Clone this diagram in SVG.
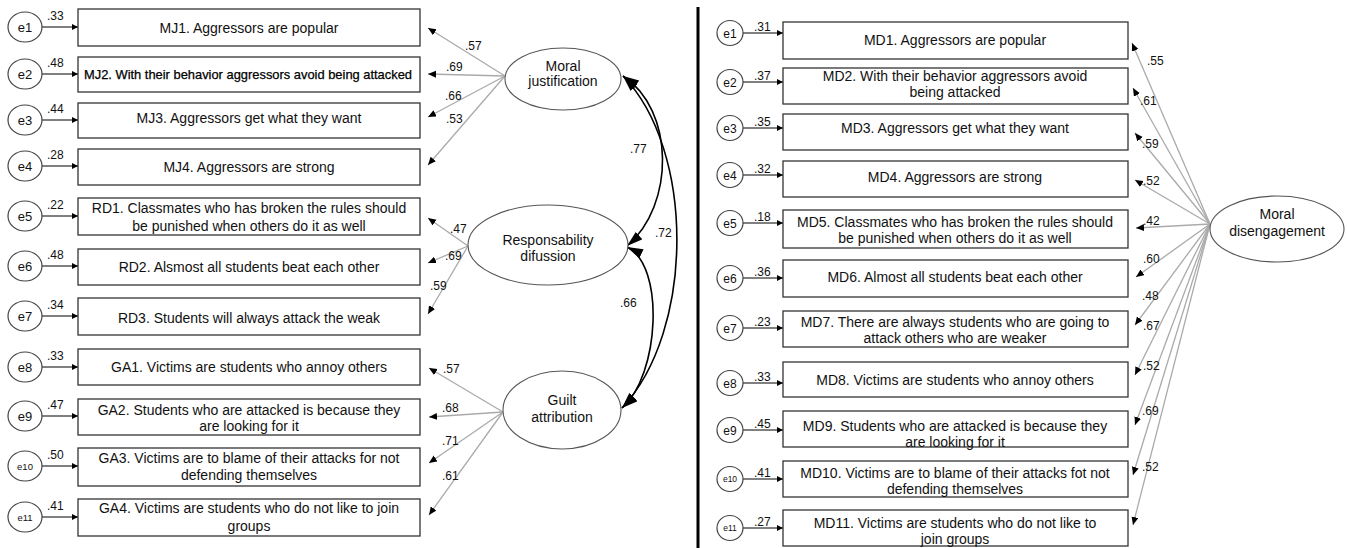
<svg xmlns="http://www.w3.org/2000/svg" width="1347" height="548" viewBox="0 0 1347 548">
<defs>
<style>
text{font-family:"Liberation Sans",Arial,sans-serif;fill:#111}
.box{fill:#fff;stroke:#333;stroke-width:1.3}
.err{fill:#fff;stroke:#444;stroke-width:1.2}
.lat{fill:#fff;stroke:#555;stroke-width:1.1}
.bt{font-size:14px;text-anchor:middle}
.lt{font-size:14px;text-anchor:middle}
.et{font-size:13px;text-anchor:middle}
.es{font-size:9.5px;text-anchor:middle}
.num{font-size:12px}
.ea{stroke:#000;stroke-width:1;fill:none;marker-end:url(#sa)}
.ld{stroke:#aaa;stroke-width:1.3;fill:none;marker-end:url(#la)}
.cv{stroke:#000;stroke-width:1.6;fill:none;marker-start:url(#ca);marker-end:url(#ca)}
</style>
<marker id="sa" markerUnits="userSpaceOnUse" markerWidth="8" markerHeight="8" refX="6" refY="3" orient="auto"><path d="M0,0 L6,3 L0,6 z" fill="#000"/></marker>
<marker id="la" markerUnits="userSpaceOnUse" markerWidth="10" markerHeight="10" refX="8" refY="3.5" orient="auto"><path d="M0,0 L8,3.5 L0,7 z" fill="#000"/></marker>
<marker id="ca" markerUnits="userSpaceOnUse" markerWidth="18" markerHeight="12" refX="16" refY="5" orient="auto-start-reverse"><path d="M0,0 L16,5 L0,10 z" fill="#000"/></marker>
</defs>
<rect width="1347" height="548" fill="#fff"/>
<line x1="698" y1="7" x2="698" y2="548" stroke="#000" stroke-width="3"/>

<g id="connectors">
<line class="ea" x1="42" y1="27" x2="78" y2="27"/>
<line class="ea" x1="42" y1="74" x2="78" y2="74"/>
<line class="ea" x1="42" y1="120" x2="78" y2="120"/>
<line class="ea" x1="42" y1="166" x2="78" y2="166"/>
<line class="ea" x1="42" y1="216" x2="78" y2="216"/>
<line class="ea" x1="42" y1="266" x2="78" y2="266"/>
<line class="ea" x1="42" y1="316" x2="78" y2="316"/>
<line class="ea" x1="42" y1="367" x2="78" y2="367"/>
<line class="ea" x1="42" y1="416" x2="78" y2="416"/>
<line class="ea" x1="42" y1="466" x2="78" y2="466"/>
<line class="ea" x1="42" y1="517" x2="78" y2="517"/>
<line class="ea" x1="743" y1="33" x2="783" y2="33"/>
<line class="ea" x1="743" y1="82" x2="783" y2="82"/>
<line class="ea" x1="743" y1="128" x2="783" y2="128"/>
<line class="ea" x1="743" y1="175" x2="783" y2="175"/>
<line class="ea" x1="743" y1="223" x2="783" y2="223"/>
<line class="ea" x1="743" y1="278" x2="783" y2="278"/>
<line class="ea" x1="743" y1="328" x2="783" y2="328"/>
<line class="ea" x1="743" y1="383" x2="783" y2="383"/>
<line class="ea" x1="743" y1="430" x2="783" y2="430"/>
<line class="ea" x1="743" y1="479" x2="783" y2="479"/>
<line class="ea" x1="743" y1="528" x2="783" y2="528"/>
<line class="ld" x1="505" y1="76" x2="428" y2="28"/>
<line class="ld" x1="505" y1="76" x2="428" y2="74"/>
<line class="ld" x1="505" y1="76" x2="428" y2="117"/>
<line class="ld" x1="505" y1="76" x2="428" y2="165"/>
<line class="ld" x1="468" y1="246" x2="428" y2="218"/>
<line class="ld" x1="468" y1="246" x2="428" y2="263"/>
<line class="ld" x1="468" y1="246" x2="428" y2="314"/>
<line class="ld" x1="503" y1="412" x2="429" y2="368"/>
<line class="ld" x1="503" y1="412" x2="429" y2="417"/>
<line class="ld" x1="503" y1="412" x2="429" y2="463"/>
<line class="ld" x1="503" y1="412" x2="429" y2="515"/>
<line class="ld" x1="1210" y1="224" x2="1132" y2="43"/>
<line class="ld" x1="1210" y1="224" x2="1133" y2="88"/>
<line class="ld" x1="1210" y1="224" x2="1135" y2="133"/>
<line class="ld" x1="1210" y1="224" x2="1135" y2="180"/>
<line class="ld" x1="1210" y1="224" x2="1136" y2="228"/>
<line class="ld" x1="1210" y1="224" x2="1136" y2="277"/>
<line class="ld" x1="1210" y1="224" x2="1135" y2="325"/>
<line class="ld" x1="1210" y1="224" x2="1135" y2="375"/>
<line class="ld" x1="1210" y1="224" x2="1135" y2="425"/>
<line class="ld" x1="1210" y1="224" x2="1133" y2="475"/>
<line class="ld" x1="1210" y1="224" x2="1133" y2="525"/>
<path class="cv" d="M623,76 C675,110 675,205 627,246"/>
<path class="cv" d="M623,76 C695,150 695,330 622,408"/>
<path class="cv" d="M627,247 C665,265 660,375 622,408"/>
<g class="num">
<text x="47" y="20">.33</text><text x="47" y="67">.48</text><text x="47" y="113">.44</text><text x="47" y="159">.28</text>
<text x="47" y="209">.22</text><text x="47" y="259">.48</text><text x="47" y="309">.34</text><text x="47" y="360">.33</text>
<text x="47" y="409">.47</text><text x="47" y="459">.50</text><text x="47" y="510">.41</text>
<text x="754" y="31">.31</text><text x="754" y="80">.37</text><text x="754" y="126">.35</text><text x="754" y="173">.32</text>
<text x="754" y="221">.18</text><text x="754" y="276">.36</text><text x="754" y="326">.23</text><text x="754" y="381">.33</text>
<text x="754" y="428">.45</text><text x="754" y="477">.41</text><text x="754" y="526">.27</text>
<text x="465" y="50">.57</text><text x="446" y="71">.69</text><text x="445" y="100">.66</text><text x="446" y="123">.53</text>
<text x="450" y="233">.47</text><text x="445" y="260">.69</text><text x="430" y="290">.59</text>
<text x="443" y="373">.57</text><text x="442" y="412">.68</text><text x="442" y="445">.71</text><text x="442" y="480">.61</text>
<text x="1147" y="65">.55</text><text x="1140" y="105">.61</text><text x="1142" y="148">.59</text><text x="1143" y="185">.52</text>
<text x="1143" y="225">.42</text><text x="1143" y="263">.60</text><text x="1142" y="300">.48</text><text x="1143" y="330">.67</text>
<text x="1143" y="370">.52</text><text x="1142" y="415">.69</text><text x="1142" y="471">.52</text>
<text x="630" y="153">.77</text><text x="655" y="237">.72</text><text x="620" y="307">.66</text>
</g>
</g>

<g id="le1"><ellipse class="err" cx="25" cy="27" rx="17" ry="15"/><text class="et" x="25" y="32">e1</text></g>
<g id="le2"><ellipse class="err" cx="25" cy="74" rx="17" ry="15"/><text class="et" x="25" y="79">e2</text></g>
<g id="le3"><ellipse class="err" cx="25" cy="120" rx="17" ry="15"/><text class="et" x="25" y="125">e3</text></g>
<g id="le4"><ellipse class="err" cx="25" cy="166" rx="17" ry="15"/><text class="et" x="25" y="171">e4</text></g>
<g id="le5"><ellipse class="err" cx="25" cy="216" rx="17" ry="15"/><text class="et" x="25" y="221">e5</text></g>
<g id="le6"><ellipse class="err" cx="25" cy="266" rx="17" ry="15"/><text class="et" x="25" y="271">e6</text></g>
<g id="le7"><ellipse class="err" cx="25" cy="316" rx="17" ry="15"/><text class="et" x="25" y="321">e7</text></g>
<g id="le8"><ellipse class="err" cx="25" cy="367" rx="17" ry="15"/><text class="et" x="25" y="372">e8</text></g>
<g id="le9"><ellipse class="err" cx="25" cy="416" rx="17" ry="15"/><text class="et" x="25" y="421">e9</text></g>
<g id="le10"><ellipse class="err" cx="25" cy="466" rx="17" ry="15"/><text class="es" x="25" y="470">e10</text></g>
<g id="le11"><ellipse class="err" cx="25" cy="517" rx="17" ry="15"/><text class="es" x="25" y="521">e11</text></g>

<g id="MJ1"><rect class="box" x="78" y="9" width="342" height="37"/><text class="bt" x="249" y="33">MJ1. Aggressors are popular</text></g>
<g id="MJ2"><rect class="box" x="78" y="57" width="342" height="35"/><text x="84" y="79" style="font-size:12.6px;fill:#000;stroke:#000;stroke-width:0.25" textLength="328" lengthAdjust="spacingAndGlyphs">MJ2. With their behavior aggressors avoid being attacked</text></g>
<g id="MJ3"><rect class="box" x="78" y="103" width="342" height="35"/><text class="bt" x="249" y="123">MJ3. Aggressors get what they want</text></g>
<g id="MJ4"><rect class="box" x="78" y="149" width="342" height="36"/><text class="bt" x="249" y="172">MJ4. Aggressors are strong</text></g>
<g id="RD1"><rect class="box" x="78" y="198" width="342" height="37"/><text class="bt" x="249" y="213">RD1. Classmates who has broken the rules should</text><text class="bt" x="249" y="231">be punished when others do it as well</text></g>
<g id="RD2"><rect class="box" x="78" y="249" width="342" height="36"/><text class="bt" x="249" y="272">RD2. Alsmost all students beat each other</text></g>
<g id="RD3"><rect class="box" x="78" y="298" width="342" height="37"/><text class="bt" x="249" y="323">RD3. Students will always attack the weak</text></g>
<g id="GA1"><rect class="box" x="78" y="349" width="342" height="36"/><text class="bt" x="249" y="372">GA1. Victims are students who annoy others</text></g>
<g id="GA2"><rect class="box" x="78" y="399" width="342" height="36"/><text class="bt" x="249" y="415">GA2. Students who are attacked is because they</text><text class="bt" x="249" y="431">are looking for it</text></g>
<g id="GA3"><rect class="box" x="78" y="448" width="342" height="38"/><text class="bt" x="249" y="463">GA3. Victims are to blame of their attacks for not</text><text class="bt" x="249" y="480">defending themselves</text></g>
<g id="GA4"><rect class="box" x="78" y="499" width="342" height="37"/><text class="bt" x="249" y="513">GA4. Victims are students who do not like to join</text><text class="bt" x="249" y="531">groups</text></g>

<g id="MJ"><ellipse class="lat" cx="563" cy="79" rx="58" ry="31"/><text class="lt" x="563" y="71">Moral</text><text class="lt" x="563" y="86">justification</text></g>
<g id="RD"><ellipse class="lat" cx="548" cy="245" rx="80" ry="40"/><text class="lt" x="548" y="245">Responsability</text><text class="lt" x="548" y="261">difussion</text></g>
<g id="GA"><ellipse class="lat" cx="562" cy="410" rx="59" ry="39"/><text class="lt" x="562" y="405">Guilt</text><text class="lt" x="562" y="422">attribution</text></g>

<g id="re1"><ellipse class="err" cx="730" cy="33" rx="13" ry="12.5"/><text class="et" x="730" y="38" style="font-size:12px">e1</text></g>
<g id="re2"><ellipse class="err" cx="730" cy="82" rx="13" ry="12.5"/><text class="et" x="730" y="87" style="font-size:12px">e2</text></g>
<g id="re3"><ellipse class="err" cx="730" cy="128" rx="13" ry="12.5"/><text class="et" x="730" y="133" style="font-size:12px">e3</text></g>
<g id="re4"><ellipse class="err" cx="730" cy="175" rx="13" ry="12.5"/><text class="et" x="730" y="180" style="font-size:12px">e4</text></g>
<g id="re5"><ellipse class="err" cx="730" cy="223" rx="13" ry="12.5"/><text class="et" x="730" y="228" style="font-size:12px">e5</text></g>
<g id="re6"><ellipse class="err" cx="730" cy="278" rx="13" ry="12.5"/><text class="et" x="730" y="283" style="font-size:12px">e6</text></g>
<g id="re7"><ellipse class="err" cx="730" cy="328" rx="13" ry="12.5"/><text class="et" x="730" y="333" style="font-size:12px">e7</text></g>
<g id="re8"><ellipse class="err" cx="730" cy="383" rx="13" ry="12.5"/><text class="et" x="730" y="388" style="font-size:12px">e8</text></g>
<g id="re9"><ellipse class="err" cx="730" cy="430" rx="13" ry="12.5"/><text class="et" x="730" y="435" style="font-size:12px">e9</text></g>
<g id="re10"><ellipse class="err" cx="730" cy="479" rx="13" ry="12.5"/><text class="es" x="730" y="482" style="font-size:8.5px">e10</text></g>
<g id="re11"><ellipse class="err" cx="730" cy="528" rx="13" ry="12.5"/><text class="es" x="730" y="531" style="font-size:8.5px">e11</text></g>

<g id="MD1"><rect class="box" x="783" y="22" width="345" height="37"/><text class="bt" x="955" y="45">MD1. Aggressors are popular</text></g>
<g id="MD2"><rect class="box" x="783" y="68" width="345" height="36"/><text class="bt" x="955" y="81">MD2. With their behavior aggressors avoid</text><text class="bt" x="955" y="97">being attacked</text></g>
<g id="MD3"><rect class="box" x="783" y="114" width="345" height="36"/><text class="bt" x="955" y="133">MD3. Aggressors get what they want</text></g>
<g id="MD4"><rect class="box" x="783" y="161" width="345" height="36"/><text class="bt" x="955" y="182">MD4. Aggressors are strong</text></g>
<g id="MD5"><rect class="box" x="783" y="210" width="345" height="38"/><text class="bt" x="955" y="227">MD5. Classmates who has broken the rules should</text><text class="bt" x="955" y="243">be punished when others do it as well</text></g>
<g id="MD6"><rect class="box" x="783" y="260" width="345" height="37"/><text class="bt" x="955" y="282">MD6. Almost all students beat each other</text></g>
<g id="MD7"><rect class="box" x="783" y="311" width="345" height="36"/><text class="bt" x="955" y="327">MD7. There are always students who are going to</text><text class="bt" x="955" y="343">attack others who are weaker</text></g>
<g id="MD8"><rect class="box" x="783" y="362" width="345" height="35"/><text class="bt" x="955" y="385">MD8. Victims are students who annoy others</text></g>
<g id="MD9"><rect class="box" x="783" y="411" width="345" height="36"/><text class="bt" x="955" y="431">MD9. Students who are attacked is because they</text><text class="bt" x="955" y="447">are looking for it</text></g>
<g id="MD10"><rect class="box" x="783" y="461" width="345" height="36"/><text class="bt" x="955" y="478">MD10. Victims are to blame of their attacks fot not</text><text class="bt" x="955" y="494">defending themselves</text></g>
<g id="MD11"><rect class="box" x="783" y="510" width="345" height="36"/><text class="bt" x="955" y="528">MD11. Victims are students who do not like to</text><text class="bt" x="955" y="544">join groups</text></g>

<g id="MDL"><ellipse class="lat" cx="1277" cy="229" rx="67" ry="33"/><text class="lt" x="1277" y="219">Moral</text><text class="lt" x="1277" y="236">disengagement</text></g>
</svg>
